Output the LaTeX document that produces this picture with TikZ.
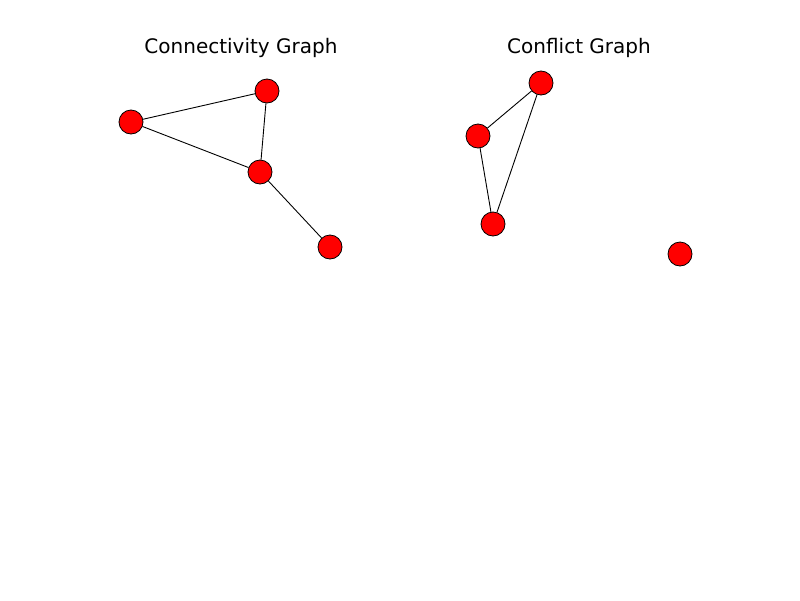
\documentclass[tikz,border=0pt]{standalone}
\usepackage{fontspec}
\setmainfont{DejaVu Sans}
\begin{document}
\begin{tikzpicture}[x=1pt,y=-1pt,
  vtx/.style={circle,draw=black,fill=red,line width=0.8pt,minimum size=24pt,inner sep=0pt},
  edge/.style={draw=black,line width=0.9pt},
  ttl/.style={font=\fontsize{20}{24}\selectfont,anchor=base}]
\useasboundingbox (0,0) rectangle (800,600);
\node[ttl] (t1) at (241,53) {Connectivity Graph};
\node[ttl] (t2) at (579,53) {Conflict Graph};
\node[vtx] (a) at (131,122) {};
\node[vtx] (b) at (267,91) {};
\node[vtx] (c) at (260,172) {};
\node[vtx] (d) at (330,247) {};
\node[vtx] (e) at (541,83) {};
\node[vtx] (f) at (478,136) {};
\node[vtx] (g) at (493,224) {};
\node[vtx] (h) at (680,254) {};
\draw[edge] (a) -- (b);
\draw[edge] (a) -- (c);
\draw[edge] (b) -- (c);
\draw[edge] (c) -- (d);
\draw[edge] (e) -- (f);
\draw[edge] (f) -- (g);
\draw[edge] (e) -- (g);
\end{tikzpicture}
\end{document}
